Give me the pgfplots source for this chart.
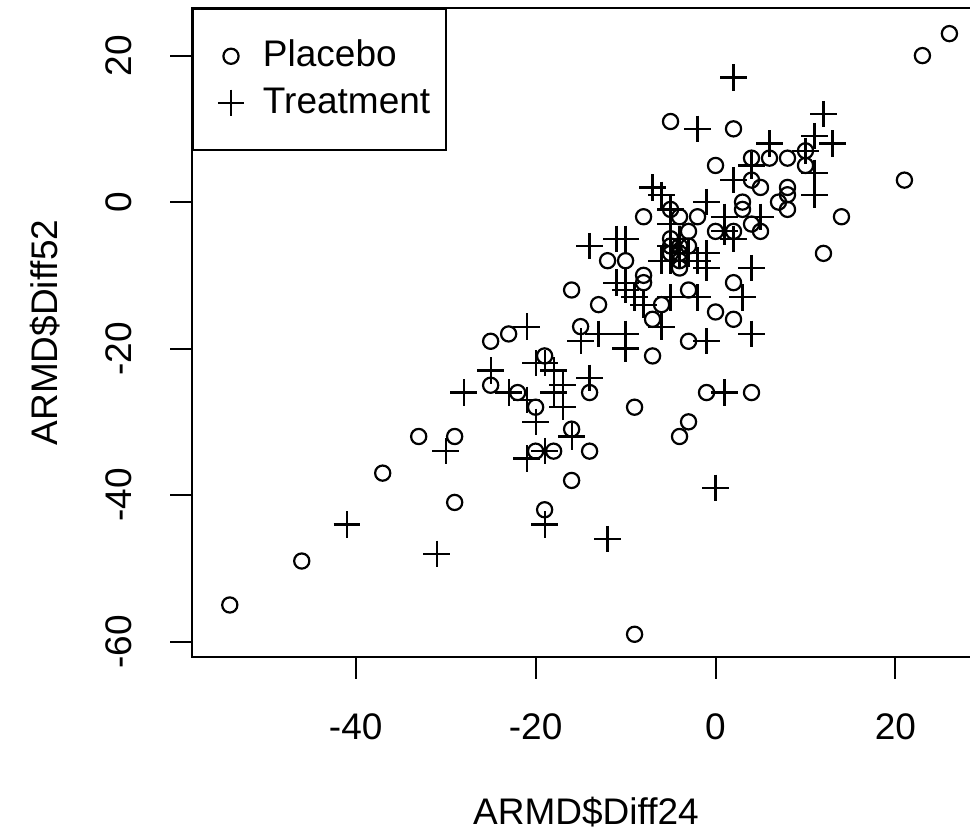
\documentclass[border=0pt]{standalone}
\usepackage{fontspec}
\setmainfont{Liberation Sans}
\usepackage{pgfplots}
\pgfplotsset{compat=1.18}
\begin{document}
\fontsize{18.5}{22}\selectfont
\begin{tikzpicture}
\useasboundingbox (0,0) rectangle (485pt,419pt);
\begin{axis}[
  at={(96pt,90.5pt)}, anchor=south west,
  scale only axis, width=394pt, height=324.5pt,
  xmin=-58.2, xmax=29.4, ymin=-62.1, ymax=26.5,
  axis line style={line width=1pt},
  tick pos=left, tick align=outside, major tick length=11pt,
  tick style={line width=1pt, black},
  xtick={-40,-20,0,20}, xticklabels={-40,-20,0,20},
  ytick={-60,-40,-20,0,20}, yticklabels={-60,-40,-20,0,20},
  xticklabel style={anchor=center, yshift=-24pt},
  yticklabel style={xshift=-25.5pt, rotate=90, anchor=center},
  xlabel={ARMD\$Diff24}, ylabel={ARMD\$Diff52},
  xlabel style={at={(rel axis cs:0.5,-0.2388)}, anchor=center},
  ylabel style={at={(rel axis cs:-0.18655,0.5)}, anchor=center},
  legend image code/.code={
    \path[draw=none, fill=none] (-19pt,-6.75pt) rectangle (7pt,6.75pt);
    \draw[#1] plot coordinates {(0pt,0pt)};},
  legend style={at={(0,1)}, anchor=north west, draw=black, line width=1pt,
    inner xsep=0pt, inner ysep=15.5pt, row sep=7pt, column sep=9pt,
    nodes={inner sep=0pt}},
  legend cell align=left,
]
% Placebo
\addplot[only marks, mark=o, mark size=3.8pt, line width=1.1pt, black] coordinates {
(26,23) (23,20) (21,3) (14,-2) (12,-7) (-5,11) (2,10) (0,5)
(-8,-2) (-5,-1) (-4,-2) (-2,-2) (10,7) (4,6) (6,6) (8,6) (10,5)
(4,3) (5,2) (8,2) (8,1) (7,0) (8,-1) (3,0) (3,-1) (4,-3) (5,-4)
(0,-4) (2,-4) (2,-11) (0,-15) (2,-16) (-1,-26) (4,-26)
(-29,-32) (-29,-41) (-20,-34) (-18,-34) (-14,-34) (-16,-38) (-19,-42)
(-9,-59) (-4,-32) (-33,-32) (-37,-37) (-46,-49) (-54,-55)
(-12,-8) (-10,-8) (-8,-10) (-8,-11) (-16,-12) (-13,-14) (-7,-16) (-6,-14)
(-3,-12) (-3,-19) (-7,-21) (-9,-28) (-3,-30) (-15,-17) (-23,-18) (-25,-19)
(-25,-25) (-22,-26) (-20,-28) (-19,-21) (-14,-26) (-16,-31) (-3,-4) (-4,-9)
(-5,-5) (-4,-6) (-5,-7) (-4,-8) (-3,-6) (-5,-6) (-4,-7)
};
\addlegendentry{\rule{0pt}{13.5pt}Placebo}
% Treatment
\addplot[only marks, mark=+, mark size=6.6pt, line width=1.1pt, black] coordinates {
(-2,10) (-7,2) (-6,1) (-1,0) (2,17) (12,12) (6,8) (11,9) (13,8) (10,7)
(4,5) (11,4) (2,3) (11,1) (5,-2) (1,-2) (1,-4) (2,-5) (-1,-7) (-1,-9)
(4,-9) (3,-13) (4,-18) (-1,-19) (1,-26) (0,-39) (-21,-35) (-19,-34)
(-16,-32) (-19,-44) (-12,-46) (-30,-34) (-41,-44) (-31,-48) (-28,-26)
(-14,-6) (-11,-5) (-10,-5) (-11,-11) (-10,-11) (-10,-12) (-9,-13) (-8,-14)
(-6,-17) (-5,-13) (-2,-13) (-15,-19) (-13,-18) (-10,-18) (-10,-20)
(-21,-17) (-25,-23) (-23,-26) (-21,-27) (-20,-30) (-20,-22) (-19,-22)
(-18,-23) (-17,-25) (-18,-26) (-17,-28) (-14,-24) (-6,-8) (-2,-8)
(-5,-1) (-5,-3) (-4,-5) (-5,-6) (-4,-7) (-5,-8) (-3,-7)
};
\addlegendentry{\rule{0pt}{13.5pt}Treatment\hspace*{8pt}}
\end{axis}
\end{tikzpicture}
\end{document}
